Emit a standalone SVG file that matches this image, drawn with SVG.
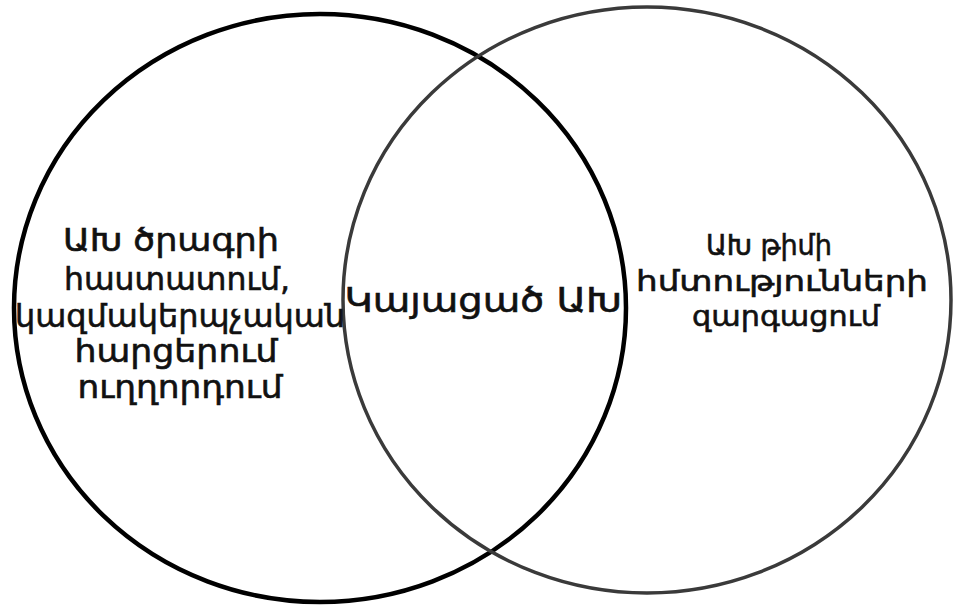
<svg xmlns="http://www.w3.org/2000/svg" width="954" height="607" viewBox="0 0 954 607">
<style>
.t{font-family:"DejaVu Sans","Noto Sans",sans-serif;fill:#111;stroke:#111;stroke-width:0.6;text-anchor:middle;font-size:32px}
.c{font-size:34px}
.r{font-size:29px}
</style>
<rect width="954" height="607" fill="#fff"/>
<g id="circle-left">
<ellipse cx="320" cy="308" rx="306" ry="294" fill="none" stroke="#000" stroke-width="4.5"/>
</g>
<g id="circle-right">
<ellipse cx="647" cy="300" rx="304" ry="293" fill="none" stroke="#3a3a3a" stroke-width="3.5"/>
</g>
<g id="label-left">
<text class="t" x="171" y="251" textLength="216" lengthAdjust="spacingAndGlyphs">ԱԽ ծրագրի</text>
<text class="t" x="177" y="290" textLength="226" lengthAdjust="spacingAndGlyphs">հաստատում,</text>
<text class="t" x="180" y="327" textLength="330" lengthAdjust="spacingAndGlyphs">կազմակերպչական</text>
<text class="t" x="176" y="362" textLength="203" lengthAdjust="spacingAndGlyphs">հարցերում</text>
<text class="t" x="180" y="398" textLength="205" lengthAdjust="spacingAndGlyphs">ուղղորդում</text>
</g>
<g id="label-center">
<text class="t c" x="483" y="312" textLength="277" lengthAdjust="spacingAndGlyphs">Կայացած ԱԽ</text>
</g>
<g id="label-right">
<text class="t r" x="769" y="255" textLength="126" lengthAdjust="spacingAndGlyphs">ԱԽ թիմի</text>
<text class="t r" x="782" y="291" textLength="292" lengthAdjust="spacingAndGlyphs">հմտությունների</text>
<text class="t r" x="786" y="326" textLength="188" lengthAdjust="spacingAndGlyphs">զարգացում</text>
</g>
</svg>
